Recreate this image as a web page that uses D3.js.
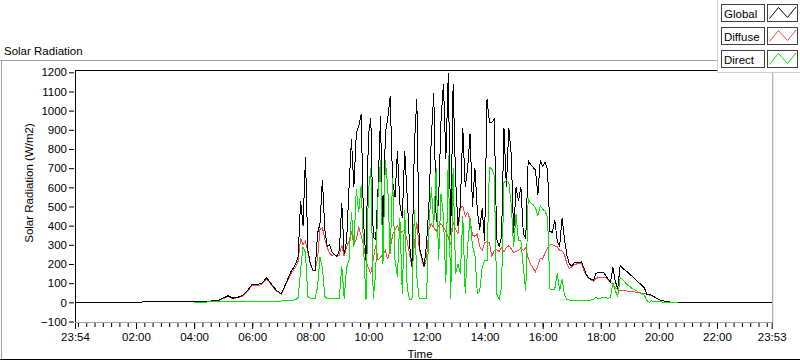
<!DOCTYPE html>
<html><head><meta charset="utf-8">
<script src="https://cdn.jsdelivr.net/npm/d3@7/dist/d3.min.js"></script>
<style>
html,body{margin:0;padding:0;background:#fff;}
svg{display:block;font-family:"Liberation Sans",Arial,sans-serif;}
</style></head>
<body>
<svg id="c" width="800" height="361"></svg>
<script>
// ---- DATA (minutes since midnight; -6 = 23:54 of previous day) ----
const times = [
  -6,
  240,250,260,270,280,290,300,310,320,330,340,350,360,370,380,390,400,410,420,430,440,
  450,455,460,465,470,475,480,485,490,495,500,505,
  510,515,520,525,530,535,540,545,550,555,560,565,
  570,575,580,585,590,595,600,605,610,615,620,625,
  630,635,640,645,650,655,660,665,670,675,680,685,
  690,695,700,705,710,715,720,725,730,735,740,745,
  750,755,760,765,770,775,780,785,790,795,800,805,
  810,815,820,825,830,835,840,845,850,855,860,865,
  870,875,880,885,890,895,900,905,910,915,920,925,
  930,935,940,945,950,955,960,965,970,975,980,985,
  990,995,1000,1005,1010,1015,1020,1025,1030,1035,1040,1045,
  1050,1055,1060,1065,1070,1075,1080,1085,1090,1095,1100,1105,
  1110,1115,1120,1125,1130,1135,1140,1145,1150,1155,1160,1165,
  1170,1175,1180,1185,1190,1195,1200,1205,1210,1215,1220,1225,
  1230,1235,1240,
  1433
];
const globalRad = [
  0,
  3,4,5,6,8,10,22,34,22,26,36,60,95,92,100,128,95,62,45,100,160,
  200,240,530,400,760,270,205,170,165,360,410,640,
  380,290,300,260,250,240,270,520,250,320,600,850,
  600,880,920,980,420,220,870,960,340,330,600,970,
  300,880,960,1075,630,550,790,510,440,790,560,300,
  190,820,1060,290,240,190,300,510,860,1090,420,530,
  950,1140,750,1195,350,1140,650,400,510,910,600,700,
  880,500,700,480,380,490,320,1060,940,940,955,330,
  290,340,910,600,910,770,360,600,530,600,360,330,
  740,720,705,690,560,740,710,730,690,370,365,430,
  320,290,440,330,245,200,190,205,210,205,212,180,
  145,128,120,115,150,158,155,158,140,122,106,183,
  110,70,192,178,168,158,146,135,124,110,100,88,
  76,42,40,38,30,20,15,10,7,5,3,1,
  0,0,0,
  0
];
const diffuseRad = [
  null,
  2,3,4,5,7,9,19,30,20,24,33,55,88,86,94,120,90,58,42,95,150,
  185,215,335,300,320,260,200,168,165,230,380,390,
  330,285,255,245,250,240,245,300,240,290,320,370,
  300,330,390,350,300,218,180,150,220,300,220,235,
  250,270,225,280,350,380,400,360,370,380,320,250,
  185,300,420,280,225,185,230,380,410,390,370,400,
  410,390,370,340,300,420,380,360,495,500,450,470,
  430,350,345,355,290,270,310,320,310,240,270,275,
  265,285,265,285,295,280,260,265,270,285,270,285,
  230,200,180,160,190,230,225,260,285,300,300,295,
  290,270,268,250,200,175,185,195,200,205,205,165,
  140,126,116,110,125,128,130,132,130,115,104,95,
  75,66,62,61,60,59,58,56,54,52,50,47,
  45,42,37,33,28,20,15,10,7,5,3,1,
  0,0,0,
  null
];
const directRad = [
  null,
  1,1,1,2,2,3,4,5,5,5,6,6,6,6,6,6,6,6,7,7,8,
  15,25,170,290,260,30,20,20,22,80,235,180,
  30,20,18,18,20,20,22,190,20,180,220,470,
  290,590,470,610,290,10,580,700,20,150,560,740,
  200,740,600,250,650,220,130,440,45,480,80,15,
  15,480,130,18,18,18,18,390,600,400,700,220,
  565,450,100,770,20,700,150,200,150,450,45,290,
  440,290,250,45,60,180,220,220,705,695,660,45,
  14,80,625,635,625,510,290,460,320,320,180,60,
  540,520,510,495,450,505,485,475,445,70,65,70,
  150,60,120,40,15,12,10,10,10,10,10,10,
  10,10,12,15,26,20,22,24,25,20,28,100,
  60,30,128,118,105,90,82,72,65,58,50,45,
  38,10,0,8,4,2,3,2,1,0,0,0,
  0,0,0,
  null
];
const xTickMinutes = [-6,120,240,360,480,600,720,840,960,1080,1200,1320,1433];
const yTickValues = [-100,0,100,200,300,400,500,600,700,800,900,1000,1100,1200];
const seriesNames = ["Global","Diffuse","Direct"];
const seriesColors = ["#000000","#ff4646","#00e400"];

// ---- LAYOUT ----
const svg = d3.select("#c");
const L = 75, R = 771.7, T = 70, B = 322;
const x = d3.scaleLinear().domain([-6, 1433]).range([L, R]);
const y = d3.scaleLinear().domain([-100, 1200]).range([321.5, 72.3]);
const FS = "11.5px";

// outer frame
svg.append("line").attr("x1",0).attr("x2",717).attr("y1",60.5).attr("y2",60.5).attr("stroke","#a0a0a0");
svg.append("line").attr("x1",1.5).attr("x2",1.5).attr("y1",60).attr("y2",360).attr("stroke","#a0a0a0");
svg.append("line").attr("x1",0).attr("x2",800).attr("y1",359.5).attr("y2",359.5).attr("stroke","#000");

svg.append("text").attr("x",4).attr("y",55).attr("font-size",FS).attr("fill","#000").text("Solar Radiation");

// clip
svg.append("clipPath").attr("id","clip").append("rect")
  .attr("x",L+1).attr("y",T+1).attr("width",R-L).attr("height",B-T-1);

const rows = times.map((t,i)=>({t, g:globalRad[i], d:diffuseRad[i], r:directRad[i]}));
const mk = key => d3.line().defined(d=>d[key]!==null && d[key]!==undefined)
  .x(d=>x(d.t)).y(d=>y(d[key]));

const plot = svg.append("g").attr("clip-path","url(#clip)");
[["d",1],["g",0],["r",2]].forEach(([k,ci])=>{
  plot.append("path").datum(rows).attr("d",mk(k)).attr("fill","none")
    .attr("stroke",seriesColors[ci]).attr("stroke-width",1).attr("shape-rendering","crispEdges");
});

// plot frame
svg.append("line").attr("x1",L).attr("x2",R+1).attr("y1",T+0.5).attr("y2",T+0.5).attr("stroke","#000");
svg.append("line").attr("x1",L+0.5).attr("x2",L+0.5).attr("y1",T).attr("y2",B).attr("stroke","#000");
svg.append("line").attr("x1",L).attr("x2",R+1.5).attr("y1",B+0.5).attr("y2",B+0.5).attr("stroke","#a0a0a0");
svg.append("line").attr("x1",R+1).attr("x2",R+1).attr("y1",T).attr("y2",B+1).attr("stroke","#a0a0a0");

// y axis
const yAx = svg.append("g").attr("transform","translate(74,0)")
  .call(d3.axisLeft(y).tickValues(yTickValues).tickSize(5).tickPadding(2).tickFormat(d3.format("d")));
yAx.select(".domain").remove();
yAx.selectAll("text").attr("font-size",FS).attr("font-family","Liberation Sans, Arial, sans-serif").attr("fill","#000");
yAx.selectAll("line").attr("stroke","#000");

// x axis
const fmt = m => { const mm = ((m%1440)+1440)%1440; return d3.format("02d")(Math.floor(mm/60))+":"+d3.format("02d")(mm%60); };
const xAx = svg.append("g").attr("transform","translate(0,"+(B+1)+")")
  .call(d3.axisBottom(x).tickValues(xTickMinutes).tickSize(6).tickPadding(4).tickFormat(fmt));
xAx.select(".domain").remove();
xAx.selectAll("text").attr("font-size",FS).attr("font-family","Liberation Sans, Arial, sans-serif").attr("fill","#000");
xAx.selectAll("line").attr("stroke","#000");
const minor = d3.range(0, 1433, 120/7);
const xMin = svg.append("g").attr("transform","translate(0,"+(B+1)+")")
  .call(d3.axisBottom(x).tickValues(minor).tickSize(4).tickFormat(""));
xMin.select(".domain").remove();
xMin.selectAll("line").attr("stroke","#000");

svg.append("text").attr("x",420).attr("y",358).attr("text-anchor","middle").attr("font-size",FS).attr("fill","#000").text("Time");
svg.append("text").attr("transform","translate(33,183) rotate(-90)").attr("text-anchor","middle")
  .attr("font-size",FS).attr("fill","#000").text("Solar Radiation (W/m2)");

// legend
const lg = svg.append("g");
lg.append("rect").attr("x",717.5).attr("y",-1).attr("width",84).attr("height",73.5).attr("fill","#fff").attr("stroke","#d0d0d0");
seriesNames.forEach((n,i)=>{
  const y0 = 4 + 23*i;
  lg.append("rect").attr("x",721.5).attr("y",y0+0.5).attr("width",43).attr("height",17).attr("fill","#fff").attr("stroke","#404040");
  lg.append("rect").attr("x",767.5).attr("y",y0+0.5).attr("width",30).attr("height",17).attr("fill","#fff").attr("stroke","#404040");
  lg.append("text").attr("x",724).attr("y",y0+14).attr("font-size",FS).attr("fill","#000").text(n);
  lg.append("path").attr("d",d3.line()([[769.5,y0+14.5],[778.5,y0+3.5],[787.5,y0+13.5],[796,y0+3]]))
    .attr("fill","none").attr("stroke",seriesColors[i]).attr("stroke-width",1);
});
</script>
</body></html>
